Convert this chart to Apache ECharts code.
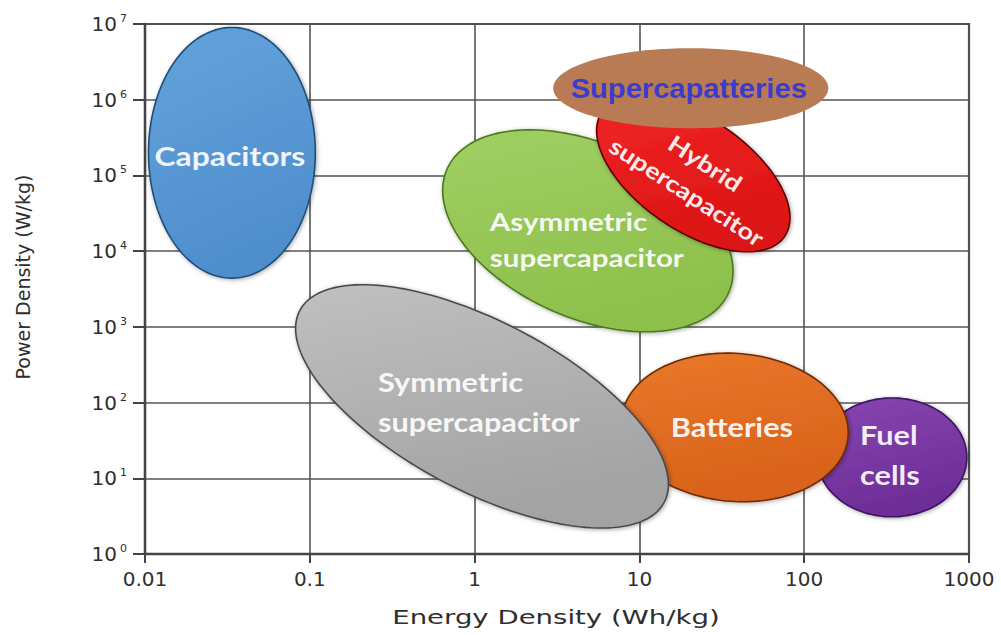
<!DOCTYPE html>
<html>
<head>
<meta charset="utf-8">
<script src="https://cdn.jsdelivr.net/npm/echarts@6/dist/echarts.min.js"></script>
<style>
  html, body { margin: 0; padding: 0; background: #ffffff; }
  #chart { width: 1001px; height: 635px; }
</style>
</head>
<body>
<div id="chart"></div>
<script>
// Ragone plot: operating regions of energy-storage devices (specific power vs specific energy)
const regions = ['Fuel cells', 'Batteries', 'Symmetric supercapacitor', 'Asymmetric supercapacitor',
                 'Hybrid supercapacitor', 'Supercapatteries', 'Capacitors'];
const regionLabels = ['Fuel\ncells', 'Batteries', 'Symmetric\nsupercapacitor', 'Asymmetric\nsupercapacitor',
                      'Hybrid\nsupercapacitor', 'Supercapatteries', 'Capacitors'];
// energy density span of each region, Wh/kg
const energyMin = [120, 7.8, 0.082, 0.64, 5.5, 3.0, 0.0105];
const energyMax = [970, 185, 15, 37, 82, 140, 0.108];
// power density span of each region, W/kg
const powerMin = [3.1, 4.9, 2.2, 860, 9800, 4.2e5, 4400];
const powerMax = [115, 450, 3600, 4.0e5, 1.1e6, 4.8e6, 9.0e6];
// coupling of power to energy inside each region (negative: power falls as energy rises)
const tilt = [0, -0.07, -0.64, -0.40, -0.56, 0, 0];
// axis tick labels
const energyTicks = ['0.01', '0.1', '1', '10', '100', '1000'];
const powerExponents = ['0', '1', '2', '3', '4', '5', '6', '7'];

// appearance of each region: fill, rim, label placement
const look = {
  'Fuel cells':                { top: '#8746b0', bottom: '#6e2d98', edge: '#3d1260', dx: -32, dy: -2, align: 'left', size: 26, lh: 40 },
  'Batteries':                 { top: '#e9782b', bottom: '#d9621a', edge: '#6e2a05', dx: -3, dy: 0, align: 'center', size: 26, lh: 30 },
  'Symmetric supercapacitor':  { top: '#c0c0c0', bottom: '#a3a3a3', edge: '#4a4a4a', dx: -104, dy: -4, align: 'left', size: 26, lh: 40 },
  'Asymmetric supercapacitor': { top: '#a0cf63', bottom: '#8dc04c', edge: '#4a7a1a', dx: -98, dy: 9, align: 'left', size: 25, lh: 36 },
  'Hybrid supercapacitor':     { top: '#f02626', bottom: '#dc1414', edge: '#5e0505', dx: 3, dy: 3, align: 'center', size: 23, lh: 34, rot: -33 },
  'Supercapatteries':          { top: '#b97b53', bottom: '#b97b53', edge: null, dx: -2, dy: 0, align: 'center', size: 28, lh: 30,
                                 family: 'Liberation Sans', color: '#3c3ccc', stretch: 1.04 },
  'Capacitors':                { top: '#63a3dc', bottom: '#4f8ecd', edge: '#1f4e79', dx: -2, dy: 3, align: 'center', size: 27, lh: 30 }
};

const STEPS = 160;

function renderRegion(params, api) {
  const i = api.value(2);
  const st = look[regions[i]];
  const e0 = Math.log10(energyMin[i]), e1 = Math.log10(energyMax[i]);
  const p0 = Math.log10(powerMin[i]), p1 = Math.log10(powerMax[i]);
  const cE = (e0 + e1) / 2, hE = (e1 - e0) / 2;
  const cP = (p0 + p1) / 2, hP = (p1 - p0) / 2;
  const r = tilt[i], s = Math.sqrt(1 - r * r);
  const points = [];
  for (let k = 0; k < STEPS; k++) {
    const t = (k / STEPS) * Math.PI * 2;
    const u = Math.cos(t);
    const v = r * Math.cos(t) + s * Math.sin(t);
    points.push(api.coord([Math.pow(10, cE + hE * u), Math.pow(10, cP + hP * v)]));
  }
  const c = api.coord([Math.pow(10, cE), Math.pow(10, cP)]);
  const fill = {
    type: 'linear', x: 0, y: 0, x2: 0.3, y2: 1,
    colorStops: [{ offset: 0, color: st.top }, { offset: 1, color: st.bottom }]
  };
  const shapeStyle = st.edge
    ? { fill: fill, stroke: st.edge, lineWidth: 1.6, shadowBlur: 4, shadowOffsetX: 1, shadowOffsetY: 1,
        shadowColor: 'rgba(0,0,0,0.35)' }
    : { fill: fill };
  return {
    type: 'group',
    children: [
      { type: 'polygon', shape: { points: points }, style: shapeStyle },
      {
        type: 'text',
        x: c[0] + st.dx,
        y: c[1] + st.dy,
        scaleX: st.stretch || 1.18,
        rotation: st.rot ? st.rot * Math.PI / 180 : 0,
        style: {
          text: regionLabels[i],
          fill: st.color || 'rgba(255,255,255,0.93)',
          fontFamily: st.family || 'Lato',
          fontWeight: 'bold',
          fontSize: st.size,
          lineHeight: st.lh,
          align: st.align,
          verticalAlign: 'middle'
        }
      }
    ]
  };
}

const axisColor = '#444444';
const gridColor = '#555555';
const labelColor = '#2e2e2e';

const chart = echarts.init(document.getElementById('chart'), null, { renderer: 'svg' });
chart.setOption({
  backgroundColor: '#ffffff',
  animation: false,
  grid: {
    left: 145, right: 32, top: 24, bottom: 81,
    show: true, borderColor: axisColor, borderWidth: 2.2,
    outerBoundsMode: 'none'
  },
  xAxis: {
    type: 'log', logBase: 10, min: 0.01, max: 1000,
    axisLine: { show: true, onZero: false, lineStyle: { color: axisColor, width: 2.4 } },
    axisTick: { show: true, length: 9, lineStyle: { color: axisColor, width: 2 } },
    minorTick: { show: false },
    splitLine: { show: true, lineStyle: { color: gridColor, width: 1.6 } },
    axisLabel: {
      margin: 15, color: labelColor, fontFamily: 'DejaVu Sans', fontSize: 20,
      formatter: v => energyTicks[Math.round(Math.log10(v)) + 2]
    }
  },
  yAxis: {
    type: 'log', logBase: 10, min: 1, max: 1e7,
    axisLine: { show: true, onZero: false, lineStyle: { color: axisColor, width: 2.4 } },
    axisTick: { show: true, length: 12, lineStyle: { color: axisColor, width: 2 } },
    minorTick: { show: false },
    splitLine: { show: true, lineStyle: { color: gridColor, width: 1.6 } },
    axisLabel: {
      margin: 18,
      formatter: v => '{b|10}{s|' + powerExponents[Math.round(Math.log10(v))] + '}',
      rich: {
        b: { fontFamily: 'DejaVu Sans', fontSize: 20, color: labelColor, lineHeight: 22 },
        s: { fontFamily: 'DejaVu Sans', fontSize: 11, color: labelColor, lineHeight: 22, verticalAlign: 'top', padding: [0, 0, 0, 3] }
      }
    }
  },
  graphic: [
    {
      type: 'text', x: 556, y: 618, scaleX: 1.45,
      style: { text: 'Energy Density (Wh/kg)', fill: labelColor, fontFamily: 'DejaVu Sans', fontSize: 19,
               align: 'center', verticalAlign: 'middle' }
    },
    {
      type: 'text', x: 23, y: 277, rotation: Math.PI / 2,
      style: { text: 'Power Density (W/kg)', fill: labelColor, fontFamily: 'DejaVu Sans', fontSize: 19,
               align: 'center', verticalAlign: 'middle' }
    }
  ],
  series: [{
    type: 'custom',
    renderItem: renderRegion,
    encode: { x: 0, y: 1 },
    data: regions.map((name, i) => [
      Math.sqrt(energyMin[i] * energyMax[i]),
      Math.sqrt(powerMin[i] * powerMax[i]),
      i
    ]),
    z: 5
  }]
});
</script>
</body>
</html>
